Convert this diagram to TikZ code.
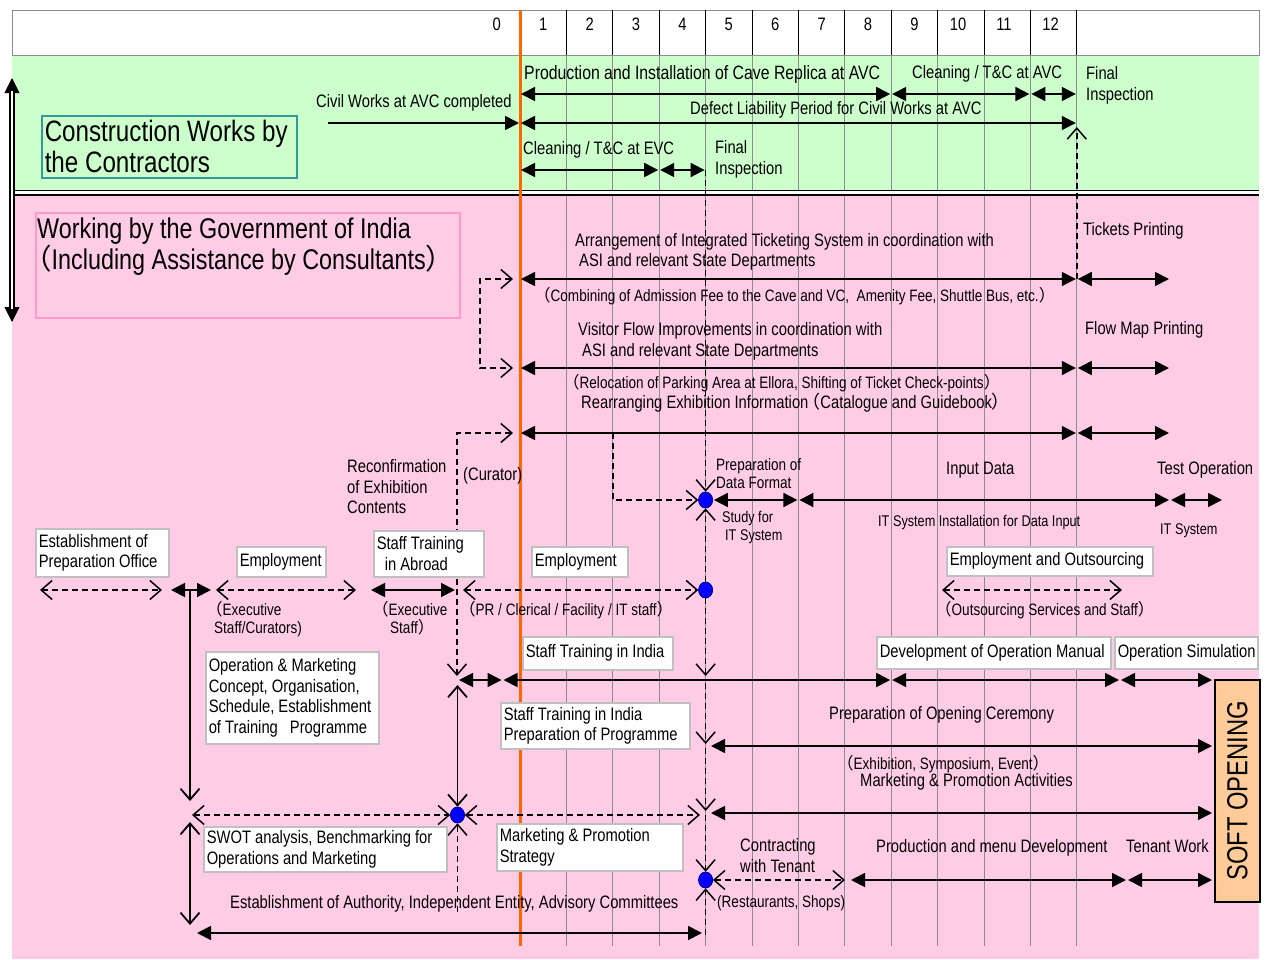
\documentclass[tikz,border=0pt]{standalone}
\usepackage{fontspec}
\setmainfont{Liberation Sans}[FakeStretch=0.82]
\newfontfamily\cjkfont{Noto Sans CJK JP}
\usetikzlibrary{arrows.meta,shapes.geometric,calc}

\definecolor{bggreen}{RGB}{204,255,204}
\definecolor{bgpink}{RGB}{255,204,230}
\definecolor{tealline}{RGB}{51,153,153}
\definecolor{pinkline}{RGB}{255,153,204}
\definecolor{boxgray}{RGB}{192,192,192}
\definecolor{orangeline}{RGB}{255,102,0}
\definecolor{peach}{RGB}{255,204,153}
\definecolor{gridgray}{RGB}{140,140,140}

\newcommand\fnorm{\fontsize{18}{20.7}\selectfont}
\newcommand\fmid{\fontsize{16.5}{18.5}\selectfont}
\newcommand\fsmall{\fontsize{15.5}{18}\selectfont}
\newcommand\fbig{\fontsize{28.5}{31}\selectfont}
\newcommand\flp{{\cjkfont （}}
\newcommand\frp{{\cjkfont ）}}

\tikzset{
  txt/.style={inner sep=0pt, anchor=mid west, font=\fnorm, yshift=-4pt},
  txtm/.style={txt, font=\fmid},
  txts/.style={txt, font=\fsmall},
  plainspaces/.style={execute at begin node={\spaceskip=0pt\xspaceskip=0pt}},
  wbox/.style={draw=boxgray, line width=1.5pt, fill=white, inner xsep=3pt,
    inner ysep=0pt, align=left, anchor=north west, font=\fnorm, plainspaces},
  sarr/.style={line width=1.8pt, shorten <=1pt, shorten >=1pt,
    arrows={Triangle[length=14pt,width=14pt]-Triangle[length=14pt,width=14pt]}},
  sarrr/.style={line width=1.8pt, shorten >=1pt,
    arrows={-Triangle[length=14pt,width=14pt]}},
  oarr/.style={line width=1.8pt,
    arrows={Straight Barb[length=11pt,width=19pt]-Straight Barb[length=11pt,width=19pt]}},
  oarrr/.style={line width=1.8pt, arrows={-Straight Barb[length=11pt,width=19pt]}},
  dsh/.style={line width=1.5pt, dash pattern=on 6pt off 4pt},
  darr/.style={dsh,
    arrows={Straight Barb[length=11pt,width=19pt]-Straight Barb[length=11pt,width=19pt]}},
  darrr/.style={dsh, arrows={-Straight Barb[length=11pt,width=19pt]}},
  bdot/.style={ellipse, fill=blue, draw=blue!50!black, line width=0.5pt,
    minimum width=14pt, minimum height=16pt, inner sep=0pt},
}

\begin{document}
\begin{tikzpicture}[x=1pt,y=-1pt]
\useasboundingbox (0,0) rectangle (1267,959);

% ---------- backgrounds ----------
\fill[bggreen] (12,55) rectangle (1259,190);
\fill[bgpink] (12,195) rectangle (1259,959);
\draw[gridgray, line width=1pt, fill=white] (12,10) rectangle (1259,55);

% ---------- month grid ----------
\foreach \k in {1,...,12} {
  \pgfmathsetmacro\xx{520+46.4*\k}
  \draw[black, line width=0.7pt] (\xx,10) -- (\xx,55);
  \draw[gridgray, line width=0.7pt] (\xx,55) -- (\xx,946);
}
\foreach \k/\xc in {0/496.8,1/543.2,2/589.6,3/636,4/682.4,5/728.8,6/775.2,
                    7/821.6,8/868,9/914.4,10/958,11/1004,12/1050.5}
  \node[font=\fnorm, inner sep=0pt] (h\k) at (\xc,24) {\k};

% separator between the two bands
\draw[line width=1.5pt, double=white, double distance=3pt] (12,192.5) -- (1259,192.5);

% month-zero marker
\draw[orangeline, line width=3pt] (520,10) -- (520,946);

% ---------- band arrow on the left ----------
\coordinate (lmid) at (12,200);
\coordinate (ltop) at (12,78);
\coordinate (lbot) at (12,322);
\coordinate (ltopb) at (12,91);
\coordinate (lbotb) at (12,309);
\draw[line width=1pt, -{Triangle[length=15pt,width=15pt]}] (lmid) -- (ltop);
\draw[line width=1pt, -{Triangle[length=15pt,width=15pt]}] (lmid) -- (lbot);
\draw[line width=1.4pt, double=white, double distance=2.6pt] (ltopb) -- (lbotb);

% ---------- timeline points ----------
\path (520,94) coordinate (a0) (891.2,94) coordinate (a8)
      (1030.4,94) coordinate (a11) (1076.8,94) coordinate (a12);
\path (328,123) coordinate (bs) (520,123) coordinate (b0) (1076.8,123) coordinate (b12);
\path (520,170) coordinate (c0) (659.2,170) coordinate (c3) (705.6,170) coordinate (c4);
\path (520,279) coordinate (t0) (1076.8,279) coordinate (t12) (1170,279) coordinate (t14);
\path (520,368) coordinate (f0) (1076.8,368) coordinate (f12) (1170,368) coordinate (f14);
\path (520,433) coordinate (g0) (1076.8,433) coordinate (g12) (1170,433) coordinate (g14);
\path (480,279) coordinate (bk1) (480,368) coordinate (bk2);
\path (457,433) coordinate (cu1) (457,676) coordinate (cu2);
\path (613,433) coordinate (pf1) (613,500) coordinate (pf2);
\path (798.4,500) coordinate (i6) (1170,500) coordinate (i14) (1223,500) coordinate (i15);
\path (40,590) coordinate (e1) (162,590) coordinate (e2) (170,590) coordinate (e3)
      (212,590) coordinate (e4) (216,590) coordinate (e5) (356,590) coordinate (e6)
      (370,590) coordinate (e7) (456,590) coordinate (e8) (463,590) coordinate (e9)
      (942,590) coordinate (e10) (1122,590) coordinate (e11)
      (190,590) coordinate (ej) (190,801) coordinate (ejb);
\path (458,680) coordinate (k1) (502.5,680) coordinate (k2) (891.2,680) coordinate (k3)
      (1120,680) coordinate (k4) (1213,680) coordinate (k5) (457.5,685) coordinate (k1b);
\path (710,746) coordinate (m0) (1213,746) coordinate (m1);
\path (710,813) coordinate (n0) (1213,813) coordinate (n1);
\path (192,815) coordinate (o1) (700,815) coordinate (o2) (457.5,912) coordinate (o3);
\path (845,880) coordinate (q1) (850,880) coordinate (q2) (1127,880) coordinate (q3)
      (1213,880) coordinate (q4);
\path (190,822) coordinate (r1) (190,925) coordinate (r2);
\path (196,933) coordinate (s1) (703,933) coordinate (s2);
\path (705.6,676) coordinate (v1) (705.6,683) coordinate (v1b) (705.6,744) coordinate (v2)
      (705.6,748) coordinate (v2b) (705.6,811) coordinate (v3) (705.6,815) coordinate (v3b)
      (705.6,935) coordinate (v4);

% curator link runs behind the training box
\draw[darr, shorten <=7pt] (g0) -- (cu1) -- (cu2);

% ---------- band titles ----------
\node[draw=tealline, line width=1.5pt, fill=bggreen, inner xsep=3pt, inner ysep=0pt,
      align=left, anchor=north west, font=\fontsize{29.5}{31}\selectfont, plainspaces,
      minimum width=255pt, minimum height=62pt, text width=249pt] (cwc) at (41,115)
      {\mbox{Construction Works by}\\\mbox{the Contractors}};
\node[draw=pinkline, line width=1.5pt, anchor=north west, minimum width=424pt,
      minimum height=105pt, inner sep=0pt] (gov) at (35,212) {};
\node[txt, font=\fbig, yshift=-3pt] (gov1) at (37,229) {Working by the Government of India};
\node[txt, font=\fbig, yshift=-3pt] (gov2) at (23,260) {\flp Including Assistance by Consultants\frp};

% ---------- boxes ----------
\node[wbox, minimum width=133pt, minimum height=48pt, text width=127pt] (prep) at (35,528)
  {\mbox{Establishment of}\\\mbox{Preparation Office}};
\node[wbox, minimum width=89pt, minimum height=30pt, text width=83pt] (emp1) at (236,546)
  {\mbox{Employment}};
\node[wbox, minimum width=110pt, minimum height=46pt, text width=104pt] (abroad) at (373,530)
  {\mbox{Staff Training}\\\mbox{\hspace*{8pt}in Abroad}};
\node[wbox, minimum width=96pt, minimum height=30pt, text width=90pt] (emp2) at (531,546)
  {\mbox{Employment}};
\node[wbox, minimum width=206pt, minimum height=29pt, text width=200pt] (empout) at (946,546)
  {\mbox{Employment and Outsourcing}};
\node[wbox, minimum width=150pt, minimum height=33pt, text width=144pt] (stind) at (522,636)
  {\mbox{Staff Training in India}};
\node[wbox, minimum width=234pt, minimum height=32pt, text width=228pt] (devman) at (876,636)
  {\mbox{Development of Operation Manual}};
\node[wbox, minimum width=143pt, minimum height=32pt, text width=137pt] (opsim) at (1114,636)
  {\mbox{Operation Simulation}};
\node[wbox, minimum width=173pt, minimum height=92pt, text width=167pt] (opmk) at (205,651)
  {\mbox{Operation \& Marketing}\\\mbox{Concept, Organisation,}\\
   \mbox{Schedule, Establishment}\\\mbox{of Training\hspace{12pt}Programme}};
\node[wbox, minimum width=189pt, minimum height=46pt, text width=183pt] (stprep) at (500,702)
  {\mbox{Staff Training in India}\\\mbox{Preparation of Programme}};
\node[wbox, minimum width=243pt, minimum height=45pt, text width=237pt] (swot) at (203,826)
  {\mbox{SWOT analysis, Benchmarking for}\\\mbox{Operations and Marketing}};
\node[wbox, minimum width=186pt, minimum height=47pt, text width=180pt] (mkst) at (496,823)
  {\mbox{Marketing \& Promotion}\\\mbox{Strategy}};
\node[draw=black, line width=1.5pt, fill=peach, rotate=90, minimum width=222pt,
      minimum height=45pt, inner sep=0pt, font=\fontsize{29}{30}\selectfont]
      (soft) at (1237.5,791) {SOFT OPENING};

% ---------- labels: construction band ----------
\node[txt, font=\fontsize{19.3}{21}\selectfont] (prod) at (524,73)
  {Production and Installation of Cave Replica at AVC};
\node[txt] (clavc) at (912,72) {Cleaning / T\&C at AVC};
\node[txt] (fin1a) at (1086,73) {Final};
\node[txt] (fin1b) at (1086,94) {Inspection};
\node[txt] (civil) at (316,101) {Civil Works at AVC completed};
\node[txt] (defect) at (690,108) {Defect Liability Period for Civil Works at AVC};
\node[txt] (clevc) at (523,148) {Cleaning / T\&C at EVC};
\node[txt] (fin2a) at (715,147) {Final};
\node[txt] (fin2b) at (715,168) {Inspection};

% ---------- labels: government band ----------
\node[txt] (tick) at (1083,229) {Tickets Printing};
\node[txt] (arr1) at (575,240) {Arrangement of Integrated Ticketing System in coordination with};
\node[txt] (arr2) at (579,260) {ASI and relevant State Departments};
\node[txtm] (comb) at (534,295)
  {\flp Combining of Admission Fee to the Cave and VC,\ \ Amenity Fee, Shuttle Bus, etc.\frp};
\node[txt] (fmap) at (1085,328) {Flow Map Printing};
\node[txt] (vis1) at (578,329) {Visitor Flow Improvements in coordination with};
\node[txt] (vis2) at (582,350) {ASI and relevant State Departments};
\node[txtm] (reloc) at (563,382)
  {\flp Relocation of Parking Area at Ellora, Shifting of Ticket Check-points\frp};
\node[txt] (rearr) at (581,402)
  {Rearranging Exhibition Information\hspace{-6pt}\flp Catalogue and Guidebook\frp};
\node[txt] (rec1) at (347,466) {Reconfirmation};
\node[txt] (rec2) at (347,487) {of Exhibition};
\node[txt] (rec3) at (347,507) {Contents};
\node[txt] (cur) at (463,474) {(Curator)};
\node[txtm] (pdf1) at (716,464) {Preparation of};
\node[txtm] (pdf2) at (716,482) {Data Format};
\node[txts] (sit1) at (722,516) {Study for};
\node[txts] (sit2) at (725,534) {IT System};
\node[txt] (inp) at (946,468) {Input Data};
\node[txts] (itsi) at (878,520) {IT System Installation for Data Input};
\node[txt] (testop) at (1157,468) {Test Operation};
\node[txts] (itsys) at (1160,528) {IT System};
\node[txtm] (ex1a) at (206,609) {\flp Executive};
\node[txtm] (ex1b) at (214,627) {Staff/Curators)};
\node[txtm] (ex2a) at (372,609) {\flp Executive};
\node[txtm] (ex2b) at (390,627) {Staff\frp};
\node[txtm] (prc) at (459,609) {\flp PR / Clerical / Facility / IT staff\frp};
\node[txtm] (outs) at (935,609) {\flp Outsourcing Services and Staff\frp};
\node[txt] (poc) at (829,713) {Preparation of Opening Ceremony};
\node[txtm] (exsym) at (837,763) {\flp Exhibition, Symposium, Event\frp};
\node[txt] (mpa) at (860,780) {Marketing \& Promotion Activities};
\node[txt] (con1) at (740,845) {Contracting};
\node[txt] (con2) at (740,866) {with Tenant};
\node[txtm] (rest) at (717,901) {(Restaurants, Shops)};
\node[txt] (pmd) at (876,846) {Production and menu Development};
\node[txt] (tw) at (1126,846) {Tenant Work};
\node[txt] (estab) at (230,902)
  {Establishment of Authority, Independent Entity, Advisory Committees};

% ---------- milestones ----------
\node[bdot] (dotA) at (705.6,500) {};
\node[bdot] (dotB) at (705.6,590) {};
\node[bdot] (dotC) at (457.5,815) {};
\node[bdot] (dotD) at (705.6,880) {};

% ---------- construction band arrows ----------
\draw[sarr] (a0) -- (a8);
\draw[sarr] (a8) -- (a11);
\draw[sarr] (a11) -- (a12);
\draw[sarrr] (bs) -- (b0);
\draw[sarr] (b0) -- (b12);
\draw[sarr] (c0) -- (c3);
\draw[sarr] (c3) -- (c4);
\draw[darrr, shorten >=4pt] (t12) -- (b12);

% ---------- government band arrows ----------
\draw[sarr] (t0) -- (t12);
\draw[sarr] (t12) -- (t14);
\draw[sarr] (f0) -- (f12);
\draw[sarr] (f12) -- (f14);
\draw[sarr] (g0) -- (g12);
\draw[sarr] (g12) -- (g14);
\draw[darr, shorten <=7pt, shorten >=7pt] (t0) -- (bk1) -- (bk2) -- (f0);
\draw[darrr] (pf1) -- (pf2) -- (dotA);

\draw[sarr] (dotA) -- (i6);
\draw[sarr] (i6) -- (i14);
\draw[sarr] (i14) -- (i15);

\draw[darrr] (c4) -- (dotA);
\draw[darrr] (dotB) -- (dotA);
\draw[darrr] (dotB) -- (v1);
\draw[darrr] (v1b) -- (v2);
\draw[darrr] (v2b) -- (v3);
\draw[darrr] (v3b) -- (dotD);
\draw[darrr] (v4) -- (dotD);

\draw[darr] (e1) -- (e2);
\draw[sarr] (e3) -- (e4);
\draw[oarrr] (ej) -- (ejb);
\draw[darr] (e5) -- (e6);
\draw[sarr] (e7) -- (e8);
\draw[darr] (e9) -- (dotB);
\draw[darr] (e10) -- (e11);

\draw[sarr] (k1) -- (k2);
\draw[sarr] (k2) -- (k3);
\draw[sarr] (k3) -- (k4);
\draw[sarr] (k4) -- (k5);
\draw[oarr] (k1b) -- (dotC);

\draw[sarr] (m0) -- (m1);
\draw[sarr] (n0) -- (n1);
\draw[darr] (o1) -- (dotC);
\draw[darr] (dotC) -- (o2);
\draw[darrr] (o3) -- (dotC);

\draw[darr] (dotD) -- (q1);
\draw[sarr] (q2) -- (q3);
\draw[sarr] (q3) -- (q4);
\draw[oarr] (r1) -- (r2);
\draw[sarr] (s1) -- (s2);

% keep the milestones on top
\node[bdot] at (dotA) {};
\node[bdot] at (dotB) {};
\node[bdot] at (dotC) {};
\node[bdot] at (dotD) {};
\end{tikzpicture}
\end{document}
